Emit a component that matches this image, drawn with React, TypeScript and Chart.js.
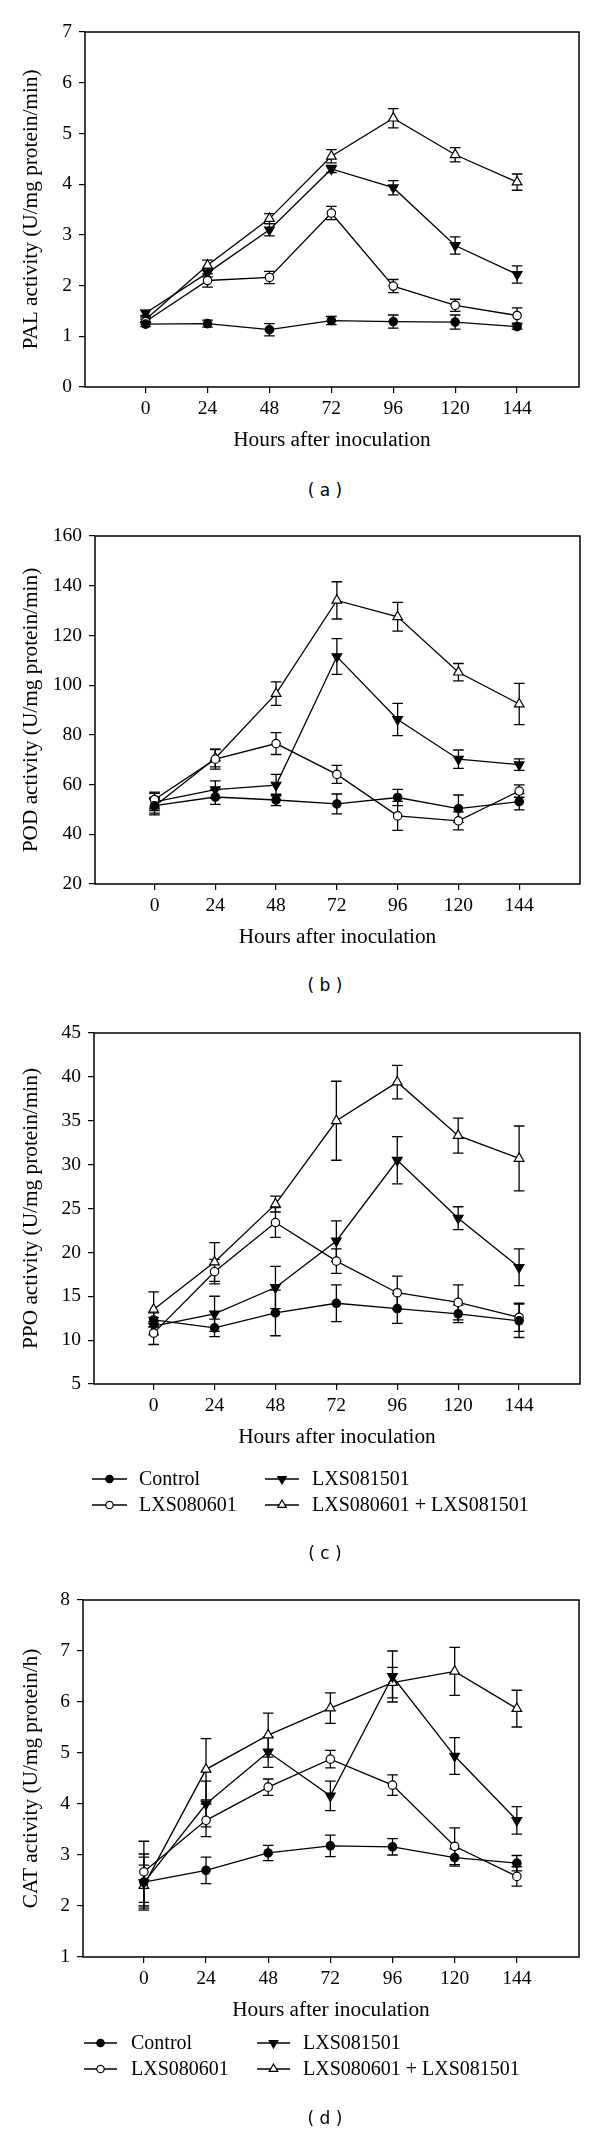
import React, { useEffect, useRef } from "react";
import { Chart, registerables } from "chart.js";

Chart.register(...registerables);

// ---------- data ----------
const hours = [0, 24, 48, 72, 96, 120, 144];
const hourTickLabels = ["0", "24", "48", "72", "96", "120", "144"];
const seriesNames = ["Control", "LXS080601", "LXS081501", "LXS080601 + LXS081501"];

// (a) PAL
const palTicks = [0, 1, 2, 3, 4, 5, 6, 7];
const palControl = [1.24, 1.25, 1.13, 1.31, 1.29, 1.28, 1.19];
const palControlErr = [0.05, 0.07, 0.12, 0.08, 0.13, 0.14, 0.05];
const pal0601 = [1.29, 2.1, 2.16, 3.43, 1.99, 1.61, 1.41];
const pal0601Err = [0.05, 0.13, 0.12, 0.13, 0.13, 0.12, 0.15];
const pal1501 = [1.46, 2.25, 3.1, 4.3, 3.93, 2.79, 2.22];
const pal1501Err = [0.05, 0.08, 0.12, 0.07, 0.14, 0.17, 0.17];
const palCombo = [1.33, 2.4, 3.32, 4.55, 5.3, 4.58, 4.04];
const palComboErr = [0.05, 0.1, 0.1, 0.13, 0.19, 0.14, 0.16];

// (b) POD
const podTicks = [20, 40, 60, 80, 100, 120, 140, 160];
const podControl = [51.5, 55.0, 53.8, 52.2, 54.8, 50.3, 53.1];
const podControlErr = [3, 3, 2.3, 4, 3.3, 5.5, 3.3];
const pod0601 = [54, 70.2, 76.5, 64.1, 47.4, 45.4, 57.4];
const pod0601Err = [3, 4, 4.4, 3.6, 5.8, 3.6, 2.5];
const pod1501 = [53, 58, 59.8, 111.5, 86.2, 70.2, 68.0];
const pod1501Err = [3.5, 3.5, 4.3, 7.2, 6.5, 3.7, 2.3];
const podCombo = [51.3, 70.6, 96.6, 134.1, 127.5, 105.2, 92.4];
const podComboErr = [3.5, 3.5, 4.7, 7.5, 5.8, 3.5, 8.3];

// (c) PPO
const ppoTicks = [5, 10, 15, 20, 25, 30, 35, 40, 45];
const ppoControl = [12.3, 11.4, 13.1, 14.2, 13.6, 13.0, 12.2];
const ppoControlErr = [0.8, 1.0, 2.6, 2.1, 1.7, 1.0, 1.9];
const ppo0601 = [10.8, 17.8, 23.4, 19.0, 15.4, 14.3, 12.6];
const ppo0601Err = [1.3, 1.4, 1.7, 1.4, 1.9, 2.0, 1.6];
const ppo1501 = [11.6, 13.0, 16.0, 21.3, 30.5, 23.9, 18.3];
const ppo1501Err = [1.0, 2.0, 2.4, 2.3, 2.7, 1.3, 2.1];
const ppoCombo = [13.5, 18.9, 25.5, 35.0, 39.4, 33.3, 30.7];
const ppoComboErr = [2.0, 2.2, 0.9, 4.5, 1.9, 2.0, 3.7];

// (d) CAT
const catTicks = [1, 2, 3, 4, 5, 6, 7, 8];
const catControl = [2.47, 2.7, 3.04, 3.18, 3.16, 2.95, 2.84];
const catControlErr = [0.55, 0.26, 0.15, 0.21, 0.16, 0.17, 0.15];
const cat0601 = [2.67, 3.68, 4.33, 4.88, 4.37, 3.17, 2.58];
const cat0601Err = [0.6, 0.32, 0.16, 0.17, 0.2, 0.36, 0.19];
const cat1501 = [2.46, 4.0, 5.02, 4.16, 6.5, 4.94, 3.68];
const cat1501Err = [0.5, 0.45, 0.3, 0.29, 0.5, 0.36, 0.27];
const catCombo = [2.4, 4.68, 5.35, 5.88, 6.38, 6.6, 5.87];
const catComboErr = [0.4, 0.6, 0.43, 0.3, 0.3, 0.47, 0.36];

// ---------- styling / layout ----------
const SERIF = "'Liberation Serif', 'Times New Roman', serif";
const SANS = "'DejaVu Sans', sans-serif";
const PAD_TOP = 20;
const X_AREA = 66;
const TITLE_SIZE = 21.3;

const markerStyles = [
  { style: "circle", rot: 0, r: 4.2, fill: "#000" },
  { style: "circle", rot: 0, r: 4.2, fill: "#fff" },
  { style: "triangle", rot: 180, r: 5.6, fill: "#000" },
  { style: "triangle", rot: 0, r: 5.6, fill: "#fff" },
];

type Panel = {
  key: string;
  title: string;
  label: string;
  labelY: number;
  left: number;
  right: number;
  top: number;
  bottom: number;
  ticks: number[];
  values: number[][];
  errors: number[][];
  legend?: { rows: number[]; lineX: number[][]; textX: number[] };
  bottomPad: number;
};

const panels: Panel[] = [
  {
    key: "a",
    title: "PAL activity (U/mg protein/min)",
    label: "( a )",
    labelY: 490,
    left: 85,
    right: 579,
    top: 32,
    bottom: 387,
    ticks: palTicks,
    values: [palControl, pal0601, pal1501, palCombo],
    errors: [palControlErr, pal0601Err, pal1501Err, palComboErr],
    bottomPad: 4,
  },
  {
    key: "b",
    title: "POD activity (U/mg protein/min)",
    label: "( b )",
    labelY: 985,
    left: 95,
    right: 580,
    top: 536,
    bottom: 884,
    ticks: podTicks,
    values: [podControl, pod0601, pod1501, podCombo],
    errors: [podControlErr, pod0601Err, pod1501Err, podComboErr],
    bottomPad: 4,
  },
  {
    key: "c",
    title: "PPO activity (U/mg protein/min)",
    label: "( c )",
    labelY: 1553,
    left: 94,
    right: 580,
    top: 1033,
    bottom: 1384,
    ticks: ppoTicks,
    values: [ppoControl, ppo0601, ppo1501, ppoCombo],
    errors: [ppoControlErr, ppo0601Err, ppo1501Err, ppoComboErr],
    legend: { rows: [1479, 1505], lineX: [[92, 127], [265, 299]], textX: [139, 312] },
    bottomPad: 140,
  },
  {
    key: "d",
    title: "CAT activity (U/mg protein/h)",
    label: "( d )",
    labelY: 2118,
    left: 83,
    right: 579,
    top: 1600,
    bottom: 1957,
    ticks: catTicks,
    values: [catControl, cat0601, cat1501, catCombo],
    errors: [catControlErr, cat0601Err, cat1501Err, catComboErr],
    legend: { rows: [2043, 2069], lineX: [[84, 117], [257, 290]], textX: [131, 303] },
    bottomPad: 130,
  },
];

function drawMarker(ctx: CanvasRenderingContext2D, idx: number, x: number, y: number, scale: number) {
  const m = markerStyles[idx];
  ctx.save();
  ctx.fillStyle = m.fill;
  ctx.strokeStyle = "#000";
  ctx.lineWidth = 1.2;
  ctx.beginPath();
  if (m.style === "circle") {
    ctx.arc(x, y, m.r * scale, 0, Math.PI * 2);
  } else {
    const r = m.r * scale;
    const rot = (m.rot * Math.PI) / 180;
    for (let k = 0; k < 3; k++) {
      const a = rot + (k * 2 * Math.PI) / 3;
      const px = x + Math.sin(a) * r;
      const py = y - Math.cos(a) * r;
      if (k === 0) ctx.moveTo(px, py);
      else ctx.lineTo(px, py);
    }
    ctx.closePath();
  }
  ctx.fill();
  ctx.stroke();
  ctx.restore();
}

function PanelChart({ panel }: { panel: Panel }) {
  const ref = useRef<HTMLCanvasElement | null>(null);
  const canvasTop = panel.top - PAD_TOP;
  const height = PAD_TOP + (panel.bottom - panel.top) + X_AREA + panel.bottomPad;

  useEffect(() => {
    if (!ref.current) return;
    const errorBars = {
      id: "errorBars",
      beforeDatasetsDraw(chart: any) {
        const ctx = chart.ctx;
        const ys = chart.scales.y;
        ctx.save();
        ctx.strokeStyle = "#000";
        ctx.lineWidth = 1.3;
        chart.data.datasets.forEach((ds: any, i: number) => {
          const meta = chart.getDatasetMeta(i);
          meta.data.forEach((pt: any, j: number) => {
            const v = ds.data[j].y;
            const e = ds.errors[j];
            const t = ys.getPixelForValue(v + e);
            const b = ys.getPixelForValue(v - e);
            const x = pt.x;
            ctx.beginPath();
            ctx.moveTo(x, t);
            ctx.lineTo(x, b);
            ctx.moveTo(x - 5.3, t);
            ctx.lineTo(x + 5.3, t);
            ctx.moveTo(x - 5.3, b);
            ctx.lineTo(x + 5.3, b);
            ctx.stroke();
          });
        });
        ctx.restore();
      },
    };
    const frame = {
      id: "frame",
      afterDraw(chart: any) {
        const { left, right, top, bottom } = chart.chartArea;
        const ctx = chart.ctx;
        ctx.save();
        ctx.strokeStyle = "#000";
        ctx.lineWidth = 1.5;
        ctx.strokeRect(left, top, right - left, bottom - top);
        ctx.restore();
      },
    };
    const legendPlugin = {
      id: "customLegend",
      afterDraw(chart: any) {
        const lg = panel.legend;
        if (!lg) return;
        const ctx = chart.ctx;
        ctx.save();
        ctx.font = `20px ${SERIF}`;
        ctx.fillStyle = "#000";
        ctx.textBaseline = "middle";
        ctx.textAlign = "left";
        const order = [
          [0, 0, 0],
          [2, 0, 1],
          [1, 1, 0],
          [3, 1, 1],
        ];
        order.forEach(([si, row, col]) => {
          const y = lg.rows[row] - canvasTop;
          const [x0, x1] = lg.lineX[col];
          ctx.strokeStyle = "#000";
          ctx.lineWidth = 1.3;
          ctx.beginPath();
          ctx.moveTo(x0, y);
          ctx.lineTo(x1, y);
          ctx.stroke();
          drawMarker(ctx, si, (x0 + x1) / 2, y, 0.88);
          ctx.fillText(seriesNames[si], lg.textX[col], y + 1);
        });
        ctx.restore();
      },
    };

    const datasets = panel.values.map((vals, i) => ({
      label: seriesNames[i],
      data: hours.map((h, j) => ({ x: h, y: vals[j] })),
      errors: panel.errors[i],
      borderColor: "#000",
      borderWidth: 1.3,
      pointStyle: markerStyles[i].style,
      pointRotation: markerStyles[i].rot,
      pointRadius: markerStyles[i].r,
      pointBackgroundColor: markerStyles[i].fill,
      pointBorderColor: "#000",
      pointBorderWidth: 1.2,
      tension: 0,
      fill: false,
    }));

    const chart = new Chart(ref.current, {
      type: "line",
      data: { datasets } as any,
      options: {
        animation: false,
        responsive: false,
        events: [],
        layout: {
          padding: { top: PAD_TOP, right: 600 - panel.right, bottom: panel.bottomPad, left: 0 },
        },
        plugins: { legend: { display: false }, tooltip: { enabled: false } },
        scales: {
          x: {
            type: "linear",
            min: -23.5,
            max: 168,
            afterBuildTicks: (s: any) => {
              s.ticks = hours.map((v) => ({ value: v }));
            },
            afterFit: (s: any) => {
              s.height = X_AREA;
            },
            ticks: {
              color: "#000",
              font: { family: SERIF, size: 19.5 },
              padding: 4,
              maxRotation: 0,
              autoSkip: false,
              callback: (v: any) => hourTickLabels[hours.indexOf(Number(v))],
            },
            grid: { drawOnChartArea: false, drawTicks: true, tickLength: 6, color: "#000", lineWidth: 1.2 },
            border: { display: false },
            title: {
              display: true,
              text: "Hours after inoculation",
              color: "#000",
              font: { family: SERIF, size: TITLE_SIZE },
              padding: { top: 0, bottom: 0 },
            },
          },
          y: {
            type: "linear",
            min: panel.ticks[0],
            max: panel.ticks[panel.ticks.length - 1],
            afterBuildTicks: (s: any) => {
              s.ticks = panel.ticks.map((v) => ({ value: v }));
            },
            afterFit: (s: any) => {
              s.width = panel.left;
            },
            ticks: {
              color: "#000",
              font: { family: SERIF, size: 19.5 },
              padding: 7,
              autoSkip: false,
              callback: (v: any) => String(v),
            },
            grid: { drawOnChartArea: false, drawTicks: true, tickLength: 6, color: "#000", lineWidth: 1.2 },
            border: { display: false },
            title: {
              display: true,
              text: panel.title,
              color: "#000",
              font: { family: SERIF, size: TITLE_SIZE },
              padding: { top: 19, bottom: 0 },
            },
          },
        },
      } as any,
      plugins: [errorBars, frame, legendPlugin],
    });
    return () => chart.destroy();
  }, [panel]);

  return (
    <>
      <canvas
        ref={ref}
        width={600}
        height={height}
        style={{ position: "absolute", left: 0, top: canvasTop, width: 600, height, display: "block" }}
      />
      <div
        style={{
          position: "absolute",
          left: 225,
          width: 200,
          top: panel.labelY - 11,
          height: 22,
          lineHeight: "22px",
          textAlign: "center",
          fontFamily: SANS,
          fontSize: 17,
          color: "#000",
        }}
      >
        {panel.label}
      </div>
    </>
  );
}

export default function App() {
  return (
    <div style={{ position: "absolute", left: 0, top: 0, width: 600, height: 2135, background: "#fff", overflow: "hidden" }}>
      {panels.map((p) => (
        <PanelChart key={p.key} panel={p} />
      ))}
    </div>
  );
}
